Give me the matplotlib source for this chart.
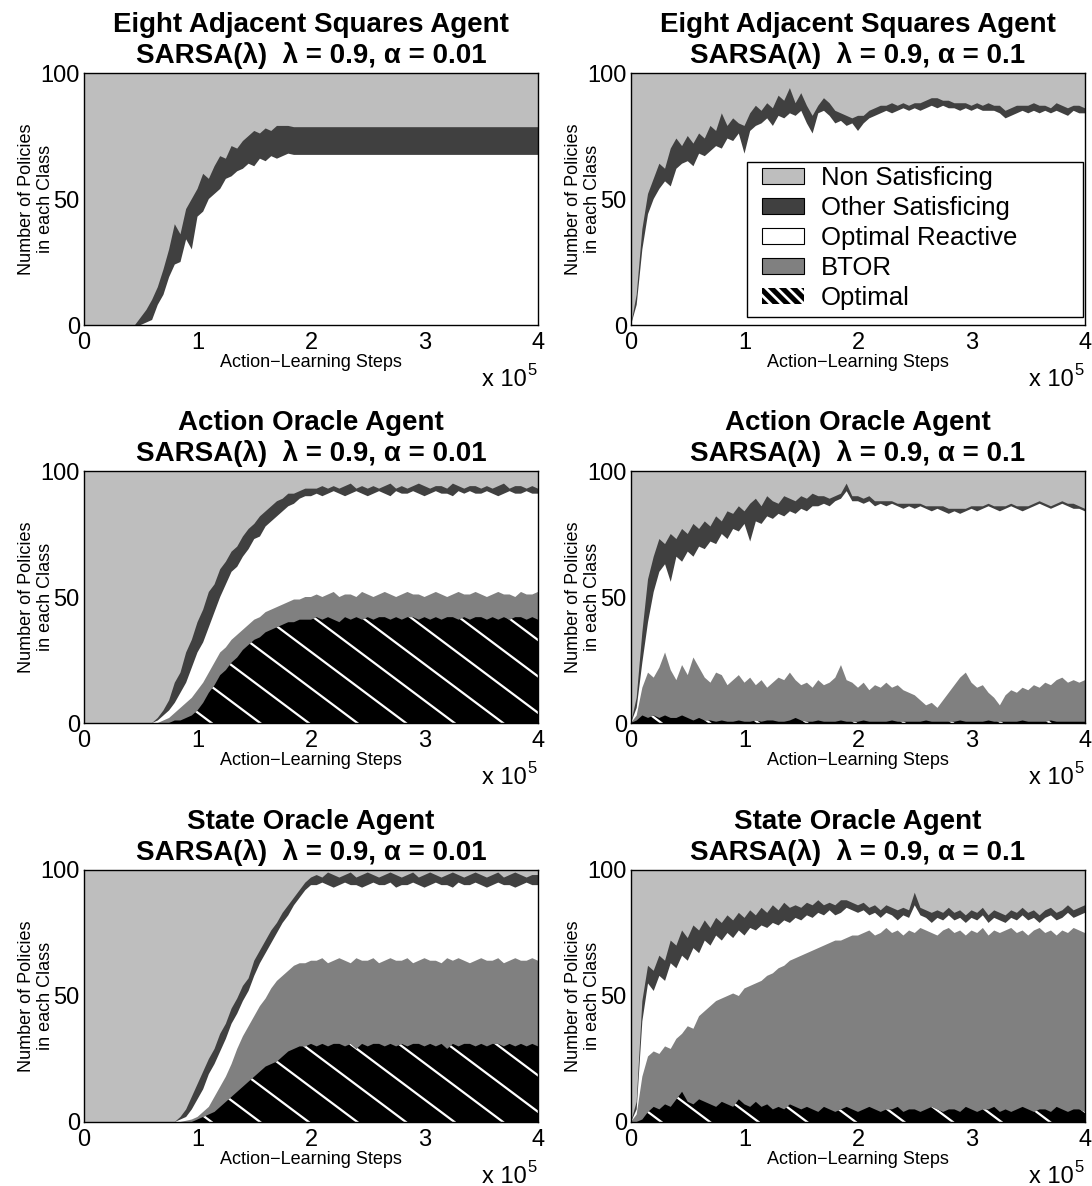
import numpy as np
import matplotlib
matplotlib.use('Agg')
import matplotlib.pyplot as plt
from matplotlib.patches import Patch, Rectangle

plt.rcParams['font.family'] = ['Liberation Sans', 'DejaVu Sans']
plt.rcParams['hatch.linewidth'] = 2.0

# learning steps, one sample every 5000 steps
steps = np.arange(81) * 5000

# cumulative policy counts (top of each class, stacked from the bottom:
# Optimal, BTOR, Optimal Reactive, Other Satisficing; the rest is Non Satisficing)

# Eight Adjacent Squares, alpha = 0.01
eas1_reactive = [0, 0, 0, 0, 0, 0, 0, 0, 0, 0,
                 0, 1, 2, 8, 12, 19, 24, 25, 34, 30,
                 43, 45, 50, 52, 54, 58, 59, 61, 62, 64,
                 63, 66, 65, 67, 66, 67, 68, 67.5, 67.5, 67.5,
                 67.5, 67.5, 67.5, 67.5, 67.5, 67.5, 67.5, 67.5, 67.5, 67.5,
                 67.5, 67.5, 67.5, 67.5, 67.5, 67.5, 67.5, 67.5, 67.5, 67.5,
                 67.5, 67.5, 67.5, 67.5, 67.5, 67.5, 67.5, 67.5, 67.5, 67.5,
                 67.5, 67.5, 67.5, 67.5, 67.5, 67.5, 67.5, 67.5, 67.5, 67.5,
                 67.5]
eas1_other = [0, 0, 0, 0, 0, 0, 0, 0, 0, 0,
              3, 6, 10, 15, 22, 30, 40, 36, 46, 50,
              54, 60, 58, 63, 67, 66, 71, 70, 73, 75,
              77, 76, 78, 77, 79, 79, 79, 78.5, 78.5, 78.5,
              78.5, 78.5, 78.5, 78.5, 78.5, 78.5, 78.5, 78.5, 78.5, 78.5,
              78.5, 78.5, 78.5, 78.5, 78.5, 78.5, 78.5, 78.5, 78.5, 78.5,
              78.5, 78.5, 78.5, 78.5, 78.5, 78.5, 78.5, 78.5, 78.5, 78.5,
              78.5, 78.5, 78.5, 78.5, 78.5, 78.5, 78.5, 78.5, 78.5, 78.5,
              78.5]

# Eight Adjacent Squares, alpha = 0.1
eas2_reactive = [0, 8, 30, 44, 50, 54, 57, 55, 62, 64,
                 65, 63, 68, 67, 69, 71, 70, 74, 73, 76,
                 68, 77, 79, 80, 82, 79, 83, 82, 84, 83,
                 85, 80, 76, 84, 85, 83, 80, 81, 79, 80,
                 77, 80, 82, 83, 84, 85, 84, 85, 86, 85,
                 86, 85, 86, 87, 86, 87, 86, 86, 85, 86,
                 85, 86, 85, 85, 85, 84, 82, 83, 84, 85,
                 84, 85, 84, 85, 84, 85, 84, 83, 85, 84,
                 84]
eas2_other = [0, 12, 38, 52, 58, 64, 62, 70, 74, 71,
              75, 72, 76, 74, 79, 77, 84, 79, 82, 80,
              79, 84, 87, 85, 88, 86, 91, 89, 94, 88,
              92, 87, 83, 87, 90, 88, 85, 84, 83, 82,
              83, 83, 85, 86, 87, 87, 88, 87, 88, 87,
              88, 88, 89, 90, 90, 89, 89, 88, 88, 88,
              87, 88, 87, 88, 87, 87, 85, 86, 87, 87,
              87, 88, 87, 87, 86, 88, 87, 86, 87, 87,
              86]

# Action Oracle, alpha = 0.01
ao1_optimal = [0, 0, 0, 0, 0, 0, 0, 0, 0, 0,
               0, 0, 0, 0, 0, 0, 1, 1, 2, 3,
               5, 8, 12, 15, 19, 21, 24, 26, 29, 31,
               33, 34, 36, 37, 38, 39, 40, 40, 41, 41,
               41, 42, 41, 42, 41, 40, 42, 41, 42, 41,
               42, 41, 42, 42, 41, 42, 41, 42, 42, 41,
               42, 41, 42, 41, 42, 42, 41, 42, 41, 42,
               42, 41, 42, 41, 42, 41, 42, 42, 41, 42,
               41]
ao1_btor = [0, 0, 0, 0, 0, 0, 0, 0, 0, 0,
            0, 0, 0, 0, 1, 2, 4, 6, 8, 10,
            13, 16, 20, 24, 28, 30, 33, 35, 37, 39,
            41, 42, 44, 45, 46, 47, 48, 49, 49, 50,
            50, 51, 50, 51, 52, 50, 51, 51, 50, 52,
            51, 50, 51, 52, 51, 50, 51, 52, 51, 51,
            50, 51, 52, 51, 50, 51, 52, 51, 51, 52,
            51, 50, 51, 52, 51, 51, 50, 52, 51, 51,
            52]
ao1_reactive = [0, 0, 0, 0, 0, 0, 0, 0, 0, 0,
                0, 0, 0, 1, 3, 5, 8, 12, 16, 22,
                28, 32, 38, 44, 50, 55, 60, 62, 66, 69,
                73, 74, 78, 80, 82, 84, 86, 87, 89, 90,
                90, 91, 90, 91, 92, 91, 90, 91, 92, 91,
                90, 91, 92, 91, 90, 92, 91, 91, 92, 91,
                90, 91, 92, 91, 91, 90, 92, 91, 92, 91,
                91, 92, 91, 90, 91, 92, 91, 91, 92, 91,
                91]
ao1_other = [0, 0, 0, 0, 0, 0, 0, 0, 0, 0,
             0, 0, 0, 2, 5, 9, 16, 20, 28, 33,
             40, 45, 52, 55, 61, 64, 68, 70, 74, 77,
             79, 82, 84, 86, 88, 89, 91, 91, 92, 93,
             93, 93, 94, 93, 94, 93, 94, 95, 93, 94,
             93, 94, 93, 94, 95, 93, 94, 93, 94, 95,
             94, 93, 94, 94, 93, 95, 94, 93, 94, 94,
             93, 94, 93, 94, 95, 93, 94, 94, 93, 94,
             93]

# Action Oracle, alpha = 0.1
ao2_optimal = [0, 1, 3, 2, 3, 2, 3, 2, 2, 3,
               2, 1, 2, 1, 1, 0.5, 1, 0.5, 0.5, 1,
               0.5, 0.5, 1, 0.5, 1, 1, 0.5, 0.5, 1, 2,
               1, 0.5, 0.5, 1, 0.5, 0.5, 0.5, 1, 0.5, 0.5,
               0.5, 1, 0.5, 0.5, 0.5, 0.5, 1, 0.5, 0.5, 0.5,
               0.5, 0.5, 1, 0.5, 0.5, 0.5, 0.5, 0.5, 1, 0.5,
               0.5, 0.5, 0.5, 1, 0.5, 0.5, 0.5, 0.5, 0.5, 1,
               0.5, 0.5, 0.5, 0.5, 1, 0.5, 0.5, 0.5, 0.5, 0.5,
               0.5]
ao2_btor = [0, 3, 14, 20, 18, 22, 28, 21, 17, 23,
            19, 26, 22, 18, 16, 20, 19, 15, 17, 19,
            16, 18, 15, 17, 14, 16, 18, 17, 20, 17,
            15, 16, 14, 17, 15, 16, 18, 23, 17, 16,
            14, 16, 13, 15, 14, 16, 14, 15, 13, 12,
            11, 9, 7, 8, 6, 9, 12, 15, 18, 20,
            16, 14, 15, 12, 10, 7, 11, 13, 12, 14,
            13, 15, 14, 16, 15, 17, 18, 16, 17, 16,
            17]
ao2_reactive = [0, 6, 24, 40, 52, 60, 63, 56, 66, 64,
                68, 66, 70, 69, 72, 71, 75, 73, 77, 76,
                79, 72, 80, 79, 82, 81, 83, 82, 84, 83,
                85, 84, 86, 86, 87, 86, 88, 89, 92, 88,
                88, 87, 88, 86, 87, 86, 87, 86, 85, 86,
                85, 86, 85, 84, 85, 84, 83, 84, 83, 84,
                85, 84, 85, 86, 85, 84, 85, 86, 85, 84,
                85, 86, 87, 86, 85, 86, 87, 86, 85, 85,
                84]
ao2_other = [0, 10, 36, 57, 66, 73, 71, 75, 73, 77,
             75, 79, 77, 80, 78, 82, 80, 84, 83, 86,
             84, 87, 89, 86, 90, 88, 87, 90, 89, 88,
             90, 89, 91, 90, 90, 89, 90, 91, 95, 90,
             90, 89, 90, 88, 88, 88, 88, 87, 87, 87,
             87, 87, 86, 86, 86, 86, 85, 85, 85, 85,
             86, 86, 86, 87, 86, 86, 86, 87, 86, 86,
             86, 87, 88, 87, 86, 87, 88, 87, 87, 86,
             85]

# State Oracle, alpha = 0.01
so1_optimal = [0, 0, 0, 0, 0, 0, 0, 0, 0, 0,
               0, 0, 0, 0, 0, 0, 0, 0, 0, 0,
               1, 2, 3, 4, 6, 8, 10, 12, 14, 16,
               18, 20, 22, 23, 24, 26, 28, 29, 30, 30,
               31, 30, 31, 30, 31, 31, 30, 31, 29, 31,
               30, 31, 31, 30, 31, 30, 31, 30, 31, 31,
               30, 31, 30, 31, 29, 31, 30, 31, 31, 30,
               31, 30, 31, 31, 30, 31, 30, 31, 30, 31,
               30]
so1_btor = [0, 0, 0, 0, 0, 0, 0, 0, 0, 0,
            0, 0, 0, 0, 0, 0, 0, 0, 0.5, 1,
            2, 4, 6, 10, 14, 18, 23, 29, 34, 38,
            42, 46, 49, 53, 56, 58, 60, 62, 63, 63,
            64, 64, 65, 63, 64, 65, 64, 63, 65, 64,
            64, 65, 63, 64, 65, 64, 64, 65, 63, 64,
            65, 64, 64, 63, 65, 64, 65, 64, 63, 64,
            65, 64, 64, 65, 63, 64, 65, 64, 64, 65,
            64]
so1_reactive = [0, 0, 0, 0, 0, 0, 0, 0, 0, 0,
                0, 0, 0, 0, 0, 0, 0, 1, 2, 5,
                9, 13, 19, 23, 28, 33, 39, 43, 48, 52,
                58, 63, 67, 71, 75, 79, 82, 86, 89, 92,
                94, 94, 95, 94, 93, 94, 95, 94, 94, 93,
                94, 95, 94, 94, 95, 93, 94, 94, 95, 94,
                93, 94, 95, 94, 94, 93, 95, 94, 94, 95,
                94, 93, 94, 95, 94, 94, 93, 94, 95, 94,
                94]
so1_other = [0, 0, 0, 0, 0, 0, 0, 0, 0, 0,
             0, 0, 0, 0, 0, 0, 0, 2, 5, 10,
             15, 20, 25, 29, 35, 39, 45, 49, 54, 57,
             64, 68, 72, 76, 79, 83, 86, 89, 92, 95,
             97, 98, 97, 99, 98, 97, 98, 99, 97, 98,
             99, 98, 97, 98, 99, 98, 97, 98, 99, 97,
             98, 99, 98, 97, 98, 99, 98, 97, 98, 99,
             98, 97, 98, 99, 97, 98, 99, 98, 97, 98,
             98]

# State Oracle, alpha = 0.1
so2_optimal = [0, 0, 1, 4, 6, 5, 7, 6, 9, 12,
               8, 7, 9, 8, 7, 6, 8, 7, 6, 9,
               7, 6, 8, 6, 7, 5, 6, 5, 7, 6,
               5, 6, 5, 4, 6, 5, 4, 5, 6, 5,
               4, 5, 6, 5, 4, 5, 5, 6, 4, 5,
               5, 4, 5, 6, 5, 4, 5, 5, 4, 6,
               5, 4, 5, 5, 6, 4, 5, 4, 5, 6,
               5, 4, 5, 5, 4, 6, 5, 4, 5, 5,
               4]
so2_btor = [0, 3, 18, 26, 28, 27, 30, 29, 33, 35,
            38, 37, 42, 44, 46, 48, 49, 50, 51, 50,
            53, 54, 55, 56, 58, 59, 61, 62, 64, 65,
            66, 67, 68, 69, 70, 71, 72, 72, 73, 74,
            74, 75, 76, 74, 75, 77, 75, 76, 74, 76,
            75, 77, 76, 75, 74, 76, 77, 75, 76, 74,
            76, 75, 77, 74, 76, 75, 76, 77, 75, 76,
            74, 76, 77, 75, 76, 74, 76, 75, 77, 76,
            75]
so2_reactive = [0, 5, 40, 55, 52, 58, 56, 63, 61, 66,
                64, 69, 67, 72, 70, 74, 72, 75, 73, 76,
                74, 77, 76, 78, 77, 79, 78, 80, 79, 81,
                80, 82, 81, 83, 82, 84, 82, 83, 85, 84,
                83, 84, 82, 83, 81, 83, 82, 80, 82, 81,
                86, 82, 81, 79, 81, 80, 82, 80, 81, 79,
                81, 80, 82, 79, 81, 80, 79, 81, 80, 82,
                80, 81, 79, 81, 82, 80, 81, 83, 81, 82,
                83]
so2_other = [0, 8, 48, 62, 60, 66, 64, 72, 70, 76,
             73, 78, 76, 80, 77, 81, 79, 82, 80, 83,
             81, 84, 82, 85, 83, 86, 84, 87, 85, 86,
             85, 87, 86, 88, 86, 87, 86, 88, 88, 87,
             86, 87, 85, 86, 84, 86, 85, 84, 85, 84,
             91, 85, 84, 83, 84, 83, 85, 83, 84, 82,
             84, 83, 85, 82, 84, 83, 82, 84, 83, 85,
             83, 84, 82, 84, 85, 83, 84, 86, 84, 85,
             86]

class_names = ['Non Satisficing', 'Other Satisficing', 'Optimal Reactive', 'BTOR', 'Optimal']
c_non, c_other, c_react, c_btor, c_opt = '#bebebe', '#404040', '#ffffff', '#808080', '#000000'

panels = [
    ('Eight Adjacent Squares Agent', '0.01', None, None, eas1_reactive, eas1_other),
    ('Eight Adjacent Squares Agent', '0.1', None, None, eas2_reactive, eas2_other),
    ('Action Oracle Agent', '0.01', ao1_optimal, ao1_btor, ao1_reactive, ao1_other),
    ('Action Oracle Agent', '0.1', ao2_optimal, ao2_btor, ao2_reactive, ao2_other),
    ('State Oracle Agent', '0.01', so1_optimal, so1_btor, so1_reactive, so1_other),
    ('State Oracle Agent', '0.1', so2_optimal, so2_btor, so2_reactive, so2_other),
]

fig = plt.figure(figsize=(10.92, 11.86), dpi=100)
W, H = 1092, 1186
lefts = [84, 631]
bottoms = [325, 723, 1122]
aw, ah = 454, 252


def add_hatch(ax, coll):
    # sparse white diagonal hatch, clipped to the optimal area
    path = coll.get_paths()[0]
    slope = 1.35
    for c in np.arange(0.067, 1.9, 0.107):
        ln, = ax.plot([c - 1.0 / slope, c], [1.0, 0.0], transform=ax.transAxes,
                      color='white', lw=1.6, zorder=3)
        ln.set_clip_path(path, ax.transData)


for k, (name, alpha, opt, btor, react, other) in enumerate(panels):
    row, col = divmod(k, 2)
    ax = fig.add_axes([lefts[col] / W, (H - bottoms[row]) / H, aw / W, ah / H])

    # stacked areas drawn top-down, each filled from zero
    ax.fill_between(steps, 0, 100, facecolor=c_non, lw=0, zorder=1)
    ax.fill_between(steps, 0, other, facecolor=c_other, lw=0, zorder=1.1)
    ax.fill_between(steps, 0, react, facecolor=c_react, lw=0, zorder=1.2)
    if btor is not None:
        ax.fill_between(steps, 0, btor, facecolor=c_btor, lw=0, zorder=1.3)
    if opt is not None:
        coll = ax.fill_between(steps, 0, opt, facecolor=c_opt, lw=0, zorder=1.4)
        add_hatch(ax, coll)

    ax.set_xlim(0, 400000)
    ax.set_ylim(0, 100)
    ax.set_xticks([0, 100000, 200000, 300000, 400000])
    ax.set_xticklabels(['0', '1', '2', '3', '4'])
    ax.set_yticks([0, 50, 100])
    ax.set_yticklabels(['0', '50', '100'])
    ax.tick_params(length=0, labelsize=17)
    ax.tick_params(axis='x', pad=5)
    ax.tick_params(axis='y', pad=3)
    for sp in ax.spines.values():
        sp.set_linewidth(1.0)
        sp.set_zorder(5)

    ax.set_title(f'{name}\nSARSA(λ)  λ = 0.9, α = {alpha}',
                 fontsize=20, fontweight='bold', pad=7, linespacing=1.2)
    ax.set_xlabel('Action\u2212Learning Steps', fontsize=13)
    ax.xaxis.set_label_coords(0.5, -0.115)
    ax.set_ylabel('Number of Policies\nin each Class', fontsize=13, va='center')
    ax.yaxis.set_label_coords(-0.106, 0.5)
    ax.text(0.975, -0.242, 'x 10', transform=ax.transAxes, fontsize=17,
            ha='right', va='baseline')
    ax.text(0.977, -0.197, '5', transform=ax.transAxes, fontsize=12,
            ha='left', va='baseline')

    if k == 1:
        handles = [Patch(facecolor=c_non, edgecolor='black', lw=0.8),
                   Patch(facecolor=c_other, edgecolor='black', lw=0.8),
                   Patch(facecolor=c_react, edgecolor='black', lw=0.8),
                   Patch(facecolor=c_btor, edgecolor='black', lw=0.8),
                   Patch(facecolor=c_opt, edgecolor='white', lw=0, hatch='\\\\\\')]
        # legend box with the wide right margin of the original
        box = Rectangle((0.2555, 0.032), 0.740, 0.615, transform=ax.transAxes,
                        facecolor='white', edgecolor='black', lw=1.0, zorder=8)
        ax.add_patch(box)
        leg = ax.legend(handles, class_names, loc='upper left',
                        bbox_to_anchor=(0.2885, 0.632), borderaxespad=0,
                        borderpad=0, frameon=False, fontsize=18.5,
                        handlelength=1.65, handleheight=0.58,
                        handletextpad=0.65, labelspacing=0.24)
        leg.set_zorder(10)

fig.savefig('out.png', dpi=100)
